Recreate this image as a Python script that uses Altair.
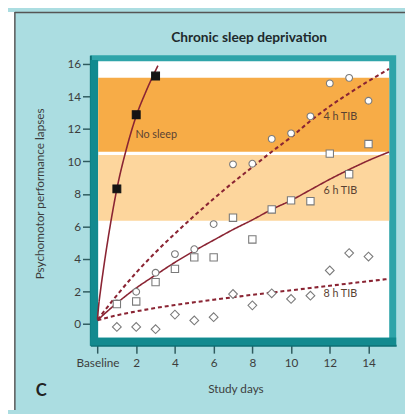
import altair as alt
import pandas as pd

# ---- data ----
days = list(range(1, 15))
tib4 = [1.25, 1.97, 3.14, 4.29, 4.59, 6.14, 9.82, 9.86, 11.39, 11.73, 12.78, 14.81, 15.15, 13.74]
tib6 = [1.21, 1.37, 2.56, 3.38, 4.09, 4.09, 6.53, 5.19, 7.04, 7.60, 7.55, 10.48, 9.21, 11.07]
tib8 = [-0.20, -0.20, -0.34, 0.56, 0.20, 0.40, 1.83, 1.13, 1.87, 1.53, 1.73, 3.28, 4.35, 4.14]
nosleep_days = [1, 2, 3]
nosleep = [8.31, 12.88, 15.26]

# fitted curves
fit_x = [0, 1, 2, 3, 4, 5, 6, 7, 8, 9, 10, 11, 12, 13, 14, 15.06]
fit4 = [0.24, 1.75, 3.15, 4.4, 5.55, 6.65, 7.7, 8.7, 9.65, 10.6, 11.5, 12.5, 13.4, 14.2, 14.95, 15.7]
fit6 = [0.22, 1.27, 2.2, 3.0, 3.78, 4.49, 5.15, 5.8, 6.4, 7.04, 7.6, 8.25, 8.9, 9.5, 10.06, 10.58]
fit8 = [0.22, 0.52, 0.76, 0.97, 1.15, 1.32, 1.48, 1.63, 1.78, 1.92, 2.06, 2.2, 2.34, 2.48, 2.62, 2.76]
ns_fit_x = [0, 0.05, 0.15, 0.3, 0.5, 0.75, 1, 1.5, 2, 2.5, 3.12]
ns_fit = [0.3, 1.0, 2.0, 3.3, 4.9, 6.7, 8.3, 10.8, 12.8, 14.3, 15.9]

band_lo = [10.6, 6.35]
band_hi = [15.15, 10.4]
band_names = ["high", "mid"]

x_ticks = [0, 2, 4, 6, 8, 10, 12, 14]
y_ticks = [0, 2, 4, 6, 8, 10, 12, 14, 16]

label_text = ["No sleep", "4 h TIB", "6 h TIB", "8 h TIB"]
label_x = [1.96, 11.67, 11.67, 11.67]
label_y = [11.65, 12.74, 8.15, 1.81]

title_text = "Chronic sleep deprivation"
panel_letter = "C"

# ---- styling ----
FONT = "Lato"
MAROON = "#8a2433"
BG = "#abdde1"
TEAL_LIGHT = "#2ea4a9"
TEAL_DARK = "#128a8f"
TXT = "#3d3d3d"

xs = alt.Scale(domain=[-0.37, 15.43], nice=False, zero=False)
ys = alt.Scale(domain=[-1.33, 16.55], nice=False, zero=False)

xaxis = alt.Axis(values=x_ticks, labelExpr="datum.value == 0 ? 'Baseline' : datum.label",
                 grid=False, tickSize=8, tickWidth=1.5, tickColor="#2f5a5e",
                 domainColor="#0c6f74", domainWidth=2, labelPadding=5,
                 labelFont=FONT, labelFontSize=12, labelColor=TXT,
                 title="Study days", titleFont=FONT, titleFontSize=12,
                 titleFontWeight="normal", titleColor=TXT,
                 titleX=148, titleY=44, titleBaseline="middle", titleAlign="center")
yaxis = alt.Axis(values=y_ticks, grid=False, tickSize=8, tickWidth=1.5, tickColor="#2f5a5e",
                 domainColor="#0c6f74", domainWidth=2, labelPadding=2,
                 labelFont=FONT, labelFontSize=12, labelColor=TXT,
                 title="Psychomotor performance lapses", titleFont=FONT, titleFontSize=12,
                 titleFontWeight="normal", titleColor=TXT,
                 titleX=-52, titleY=141, titleBaseline="middle", titleAlign="center")

def X(f="x"):
    return alt.X(f"{f}:Q", scale=xs, axis=xaxis)

def Y(f="y"):
    return alt.Y(f"{f}:Q", scale=ys, axis=yaxis)

# frame dark strips (left & bottom) and white panel
frame_df = pd.DataFrame({"x": [-0.37, -0.37], "x2": [0.035, 15.43],
                         "y": [-1.33, -1.33], "y2": [16.25, -0.85]})
frame = alt.Chart(frame_df).mark_rect(color=TEAL_DARK).encode(
    x=X(), x2="x2:Q", y=Y(), y2="y2:Q")

panel_df = pd.DataFrame({"x": [0.035], "x2": [15.07], "y": [-0.85], "y2": [16.18]})
panel = alt.Chart(panel_df).mark_rect(color="white").encode(
    x=X(), x2="x2:Q", y=Y(), y2="y2:Q")

bands_df = pd.DataFrame({"lo": band_lo, "hi": band_hi, "name": band_names,
                         "x": [0.035, 0.035], "x2": [15.07, 15.07]})
bands = alt.Chart(bands_df).mark_rect().encode(
    x=X(), x2="x2:Q", y=Y("lo"), y2="hi:Q",
    color=alt.Color("name:N", scale=alt.Scale(domain=["high", "mid"],
                                              range=["#f7ac47", "#fdd69d"]), legend=None))

def curve(xv, yv, dashed):
    df = pd.DataFrame({"x": xv, "y": yv})
    m = alt.Chart(df).mark_line(color=MAROON, strokeWidth=2.1 if dashed else 1.6,
                                strokeDash=[4, 3] if dashed else [1, 0],
                                interpolate="monotone")
    return m.encode(x=X(), y=Y())

l4 = curve(fit_x, fit4, True)
l6 = curve(fit_x, fit6, False)
l8 = curve(fit_x, fit8, True)
lns = curve(ns_fit_x, ns_fit, False)

def pts(xv, yv, shape, size, fill, stroke):
    df = pd.DataFrame({"x": xv, "y": yv})
    return alt.Chart(df).mark_point(shape=shape, size=size, filled=True, fill=fill,
                                    stroke=stroke, strokeWidth=1.1, opacity=1).encode(x=X(), y=Y())

p4 = pts(days, tib4, "circle", 48, "white", "#7a7a7a")
p6 = pts(days, tib6, "square", 56, "white", "#7a7a7a")
p8 = pts(days, tib8, "diamond", 80, "white", "#7a7a7a")
pns = pts(nosleep_days, nosleep, "square", 64, "#141414", "#141414")

lab_df = pd.DataFrame({"x": label_x, "y": label_y, "t": label_text})
labels = alt.Chart(lab_df).mark_text(align="left", baseline="middle", font=FONT,
                                     fontSize=11, color="#5a4232").encode(
    x=X(), y=Y(), text="t:N")

# decorative outer border, title and panel letter
left_white = alt.Chart(panel_df).mark_rect(color="white").encode(
    x=alt.value(-84), x2=alt.value(-77), y=alt.value(-44), y2=alt.value(362))
left_line = alt.Chart(panel_df).mark_rule(color="#555555", strokeWidth=1.5).encode(
    x=alt.value(-77), y=alt.value(-44), y2=alt.value(362))
top_line = alt.Chart(panel_df).mark_rule(color="#555555", strokeWidth=1.5).encode(
    x=alt.value(-77), x2=alt.value(321), y=alt.value(-43.5))
title = alt.Chart(panel_df).mark_text(text=title_text, font=FONT, fontSize=14, fontWeight="bold",
                                      color="#1e2a2c", align="center", baseline="alphabetic").encode(
    x=alt.value(162), y=alt.value(-13))
letter = alt.Chart(panel_df).mark_text(text=panel_letter, font=FONT, fontSize=17, fontWeight="bold",
                                       color="#222222", align="center", baseline="middle").encode(
    x=alt.value(-50), y=alt.value(343))

chart = alt.layer(
    frame, panel, bands, l8, l6, l4, lns, p4, p6, p8, pns, labels,
    left_white, left_line, top_line, title, letter
).properties(
    width=312, height=296,
    padding={"left": 84, "top": 44, "right": 9, "bottom": 66},
    autosize=alt.AutoSizeParams(type="none"),
    background=BG,
).configure_view(fill=TEAL_LIGHT, stroke=None)

chart.save("out.html", embed_options={"renderer": "svg", "actions": False})
